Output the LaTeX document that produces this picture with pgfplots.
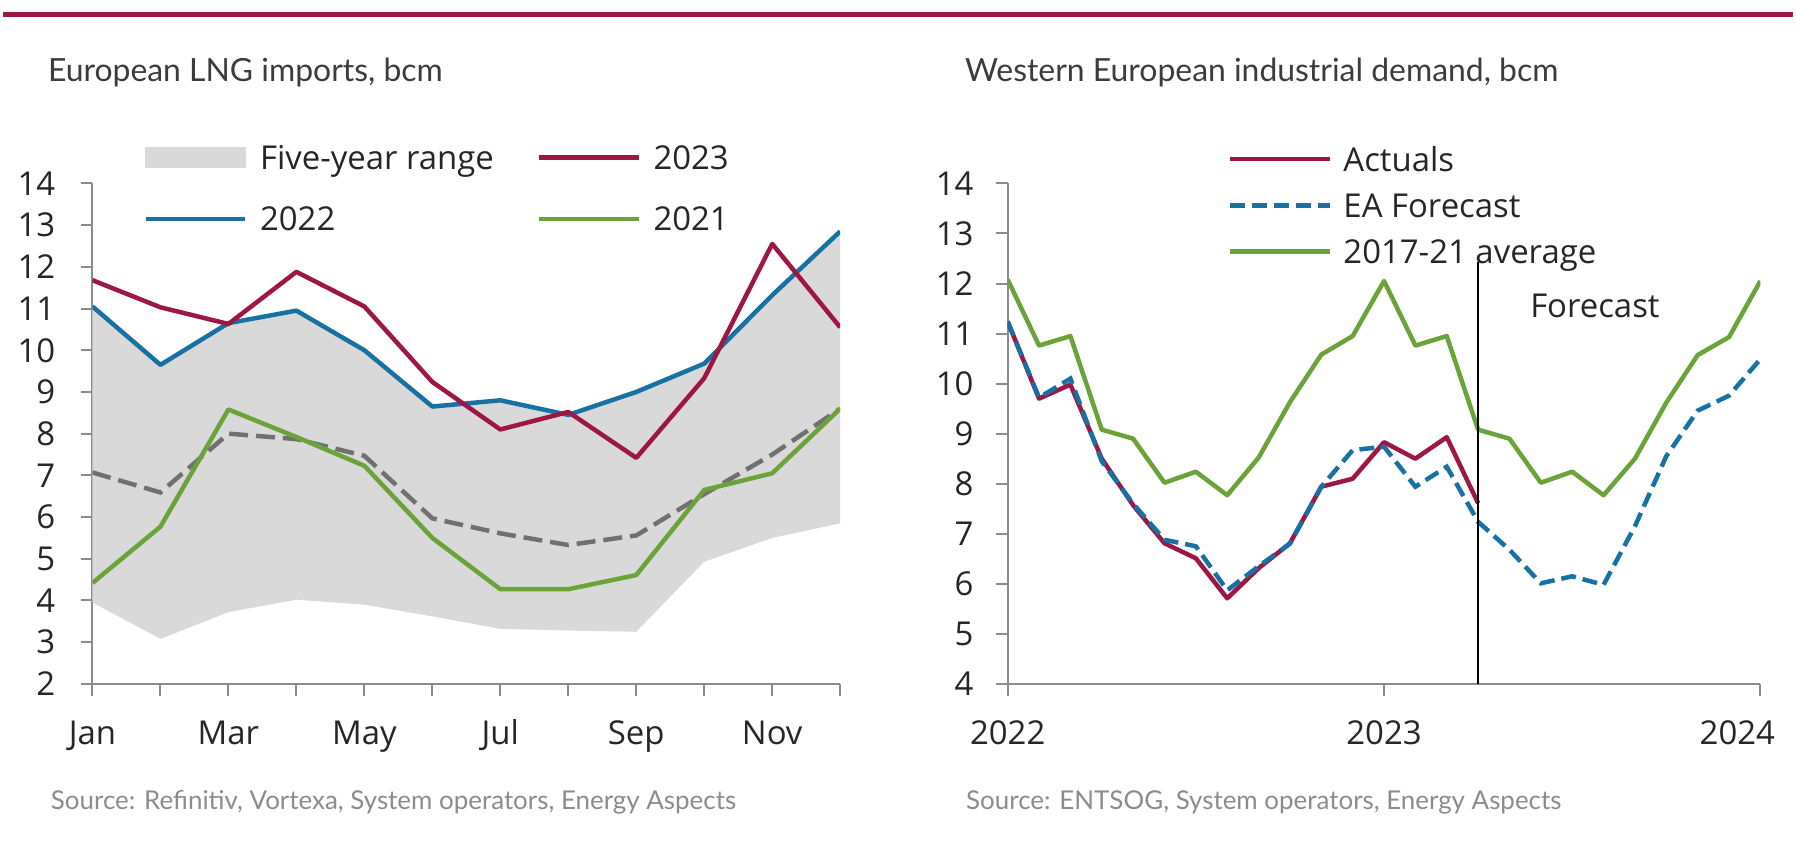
\documentclass[border=0pt]{standalone}
\usepackage{fontspec}
\setmainfont{Open Sans}
\newfontfamily\latofont{Lato}
\usepackage{pgfplots}
\pgfplotsset{compat=1.18}
\definecolor{crim}{RGB}{158,22,68}
\definecolor{eblue}{RGB}{22,114,165}
\definecolor{egreen}{RGB}{106,164,56}
\definecolor{dgray}{RGB}{112,112,112}
\definecolor{rgray}{RGB}{217,217,217}
\definecolor{axgray}{RGB}{140,140,140}
\definecolor{txt}{RGB}{38,38,38}
\definecolor{ttl}{RGB}{60,60,60}
\definecolor{srcgray}{RGB}{140,140,140}
\newcommand{\tickfont}{\fontsize{16.5pt}{18pt}\selectfont}
\newcommand{\legfont}{\fontsize{16.5pt}{18pt}\selectfont}
\pgfplotsset{
  common/.style={
    scale only axis, height=251pt,
    axis x line*=bottom, axis y line*=left,
    axis line style={draw=axgray, line width=1pt},
    every tick/.style={draw=axgray, line width=1pt},
    tick align=outside, major tick length=6pt,
    /pgf/number format/assume math mode=true,
    tick label style={font=\tickfont, text=txt},
    xticklabel style={anchor=base, inner sep=0pt, yshift=-24.5pt},
    yticklabel style={anchor=east, inner sep=0pt},
    legend image code/.code={\draw[##1] (0pt,0pt) -- (50pt,0pt);},
    legend cell align=left,
  },
}
\begin{document}
\begin{tikzpicture}
\path[fill=white] (0,0) rectangle (898pt,433.5pt);
\draw[crim, line width=2.75pt] (0,426.1pt) -- (898pt,426.1pt);
\node[anchor=base west, inner sep=0pt, font=\latofont\fontsize{16pt}{18pt}\selectfont, text=ttl] at (22.5pt,392.65pt) {European LNG imports, bcm};
\node[anchor=base west, inner sep=0pt, font=\latofont\fontsize{16pt}{18pt}\selectfont, text=ttl] at (482.5pt,392.65pt) {Western European industrial demand, bcm};
\node[anchor=base west, inner sep=0pt, font=\latofont\fontsize{13pt}{15pt}\selectfont, text=srcgray] at (24pt,27.5pt) {Source: Refinitiv, Vortexa, System operators, Energy Aspects};
\node[anchor=base west, inner sep=0pt, font=\latofont\fontsize{13pt}{15pt}\selectfont, text=srcgray] at (483pt,27.5pt) {Source: ENTSOG, System operators, Energy Aspects};

\begin{axis}[common,
  at={(45pt,90.5pt)}, anchor=south west, width=375pt,
  xmin=0, xmax=11, ymin=2, ymax=14,
  xtick={0,...,11}, xticklabels={Jan,,Mar,,May,,Jul,,Sep,,Nov,},
  ytick={2,...,14},
  yticklabel style={xshift=-12.5pt},
  legend columns=2,
  legend style={at={(0.068,1.0757)}, anchor=north west, draw=none, fill=none,
    inner sep=0pt, outer sep=0pt, row sep=18.85pt, font=\legfont, text=txt,
    nodes={inner sep=0pt, text height=12pt, text depth=0pt},
    /tikz/every odd column/.append style={column sep=6.3pt},
    /tikz/every even column/.append style={column sep=21.5pt}},
]
\addplot[fill=rgray, draw=none, forget plot] coordinates {
 (0,11.05) (1,9.65) (2,10.65) (3,10.95) (4,10.0) (5,8.65) (6,8.8) (7,8.45) (8,9.0) (9,9.68) (10,11.32) (11,12.85)
 (11,5.85) (10,5.5) (9,4.93) (8,3.25) (7,3.28) (6,3.32) (5,3.62) (4,3.9) (3,4.02) (2,3.72) (1,3.08) (0,3.95)
} -- cycle;
\addplot[dgray, line width=2.25pt, dash pattern=on 9.5pt off 4pt, forget plot] coordinates {
 (0,7.07) (1,6.59) (2,8.0) (3,7.87) (4,7.47) (5,5.97) (6,5.61) (7,5.33) (8,5.56) (9,6.55) (10,7.5) (11,8.6)};
\addplot[egreen, line width=2.25pt, line join=round, forget plot] coordinates {
 (0,4.42) (1,5.77) (2,8.58) (3,7.92) (4,7.23) (5,5.5) (6,4.27) (7,4.27) (8,4.61) (9,6.65) (10,7.05) (11,8.6)};
\addplot[eblue, line width=2.25pt, line join=round, forget plot] coordinates {
 (0,11.05) (1,9.65) (2,10.65) (3,10.95) (4,10.0) (5,8.65) (6,8.8) (7,8.45) (8,9.0) (9,9.68) (10,11.32) (11,12.85)};
\addplot[crim, line width=2.25pt, line join=round, forget plot] coordinates {
 (0,11.68) (1,11.03) (2,10.63) (3,11.88) (4,11.05) (5,9.24) (6,8.1) (7,8.52) (8,7.42) (9,9.33) (10,12.55) (11,10.55)};
\addlegendimage{legend image code/.code={\fill[rgray] (0pt,-5pt) rectangle (50pt,5pt);}}
\addlegendentry{Five-year range}
\addlegendimage{crim, line width=2.25pt}
\addlegendentry{2023}
\addlegendimage{eblue, line width=2.25pt}
\addlegendentry{2022}
\addlegendimage{egreen, line width=2.25pt}
\addlegendentry{2021}
\end{axis}

\begin{axis}[common,
  at={(504pt,90.5pt)}, anchor=south west, width=377.5pt,
  xmin=0, xmax=24, ymin=4, ymax=14,
  xtick={0,12}, xticklabels={2022,2023},
  extra x ticks={24}, extra x tick labels={2024},
  extra x tick style={xticklabel style={anchor=base east, xshift=7.5pt}},
  ytick={4,...,14},
  yticklabel style={xshift=-11pt},
  legend style={at={(0.2926,1.0723)}, anchor=north west, draw=none, fill=none,
    inner sep=0pt, outer sep=0pt, row sep=11.15pt, font=\legfont, text=txt,
    nodes={inner sep=0pt, text height=12pt, text depth=0pt},
    /tikz/every odd column/.append style={column sep=5.7pt}},
]
\addplot[egreen, line width=2.25pt, line join=round, forget plot] coordinates {
 (0,12.08) (1,10.76) (2,10.95) (3,9.08) (4,8.90) (5,8.02) (6,8.24) (7,7.77) (8,8.52) (9,9.63) (10,10.58) (11,10.95)
 (12,12.05) (13,10.76) (14,10.95) (15,9.08) (16,8.90) (17,8.02) (18,8.24) (19,7.77) (20,8.50) (21,9.62) (22,10.57) (23,10.93) (24,12.05)};
\addplot[crim, line width=2.25pt, line join=round, forget plot] coordinates {
 (0,11.24) (1,9.70) (2,9.98) (3,8.50) (4,7.57) (5,6.81) (6,6.51) (7,5.71) (8,6.31) (9,6.81) (10,7.94) (11,8.10)
 (12,8.83) (13,8.50) (14,8.93) (15,7.61)};
\addplot[eblue, line width=2.25pt, dash pattern=on 7.5pt off 3.5pt, forget plot] coordinates {
 (0,11.24) (1,9.72) (2,10.10) (3,8.45) (4,7.60) (5,6.88) (6,6.75) (7,5.87) (8,6.35) (9,6.80) (10,7.94) (11,8.67)
 (12,8.74) (13,7.94) (14,8.34) (15,7.24) (16,6.68) (17,6.01) (18,6.15) (19,5.98) (20,7.15) (21,8.55) (22,9.46) (23,9.76) (24,10.49)};
\addplot[black, line width=1pt, forget plot] coordinates {(15,4) (15,12.43)};
\node[anchor=base west, inner sep=0pt, font=\legfont, text=txt] at (axis cs:16.65,11.32) {Forecast};
\addlegendimage{crim, line width=2.25pt}
\addlegendentry{Actuals}
\addlegendimage{eblue, line width=2.25pt, dash pattern=on 7.5pt off 3.5pt}
\addlegendentry{EA Forecast}
\addlegendimage{egreen, line width=2.25pt}
\addlegendentry{2017-21 average}
\end{axis}
\end{tikzpicture}
\end{document}
